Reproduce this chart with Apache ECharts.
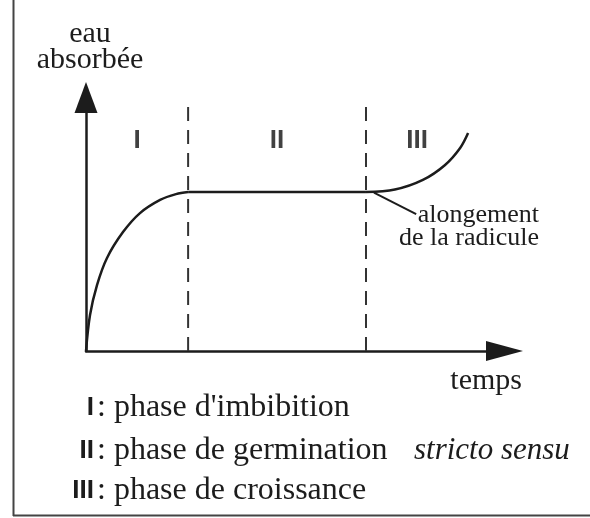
<!DOCTYPE html>
<html>
<head>
<meta charset="utf-8">
<script src="https://cdn.jsdelivr.net/npm/echarts@6/dist/echarts.min.js"></script>
<style>
  html, body { margin: 0; padding: 0; background: #fff; }
  #chart { width: 590px; height: 518px; }
</style>
</head>
<body>
<div id="chart"></div>
<script>
// temps (unités arbitraires, 0-100) et eau absorbée (0-100)
// phase I : imbibition
const phase1Time = [0, 0.96, 2.63, 5.02, 8.84, 12.9, 17.7, 21.5, 24.4];
const phase1Water = [0, 14.2, 26.0, 36.7, 46.9, 54.4, 59.6, 61.9, 62.7];
// phase III : croissance
const phase3Time = [66.9, 73.8, 80.5, 85.8, 89.4, 91.3];
const phase3Water = [62.7, 63.7, 67.5, 73.4, 80.1, 86.0];
// limites des phases (début, fin I, fin II, fin de la courbe)
const phaseBounds = [0, 24.4, 66.9, 91.3];
const phaseNames = ['I', 'II', 'III'];
const phaseDescriptions = [": phase d'imbibition", ': phase de germination', ': phase de croissance'];
const dashTop = 96.3;
const labelLevel = 83;

const serif = '"Liberation Serif", "DejaVu Serif", serif';
const sans = '"Liberation Sans", Arial, sans-serif';
const ink = '#1c1c1c';

const chart = echarts.init(document.getElementById('chart'));

const zip = (xs, ys) => xs.map((x, i) => [x, ys[i]]);
const phase1Data = zip(phase1Time, phase1Water);
const phase3Data = zip(phase3Time, phase3Water);
// plateau de la phase II
const plateauData = [phase1Data[phase1Data.length - 1], phase3Data[0]];

const curveStyle = { color: ink, width: 2.5 };

// lignes pointillées entre les phases
const dashSeries = phaseBounds.slice(1, 3).map(x => ({
  type: 'line',
  data: [[x, 0], [x, dashTop]],
  showSymbol: false,
  silent: true,
  lineStyle: { color: '#333', width: 2, type: [14, 9] },
  z: 1
}));

// chiffres romains au milieu de chaque phase
const phaseLabelData = phaseNames.map((n, i) => ({
  value: [(phaseBounds[i] + phaseBounds[i + 1]) / 2, labelLevel],
  name: n
}));

const legendGraphics = [];
const legendY = [408, 451, 491];
phaseNames.forEach((n, i) => {
  legendGraphics.push({
    type: 'text', x: 94, y: legendY[i],
    style: { text: n, font: 'bold 26px ' + sans, fill: ink, align: 'right', verticalAlign: 'middle' }
  });
  legendGraphics.push({
    type: 'text', x: 97, y: legendY[i],
    style: { text: phaseDescriptions[i], font: '32px ' + serif, fill: ink, align: 'left', verticalAlign: 'middle' }
  });
});

const option = {
  animation: false,
  backgroundColor: '#fff',
  grid: { left: 86, right: 85.5, top: 97.5, bottom: 167, containLabel: false },
  xAxis: {
    type: 'value', min: 0, max: 100,
    name: 'temps',
    nameLocation: 'end',
    nameGap: 17.5,
    nameTextStyle: { fontFamily: serif, fontSize: 30, color: ink, align: 'right', verticalAlign: 'top', lineHeight: 30, padding: [15, 0, 0, 0] },
    axisLine: { show: true, symbol: ['none', 'triangle'], symbolSize: [20, 37], lineStyle: { color: ink, width: 2.5 } },
    axisTick: { show: false }, axisLabel: { show: false }, splitLine: { show: false }
  },
  yAxis: {
    type: 'value', min: 0, max: 100,
    name: 'eau\nabsorbée',
    nameLocation: 'end',
    nameGap: 24,
    nameTextStyle: { fontFamily: serif, fontSize: 30, color: ink, lineHeight: 26, align: 'center', padding: [0, 0, 0, 8] },
    axisLine: { show: true, symbol: ['none', 'triangle'], symbolSize: [23, 31], lineStyle: { color: ink, width: 2.5 } },
    axisTick: { show: false }, axisLabel: { show: false }, splitLine: { show: false }
  },
  series: [
    {
      type: 'line',
      data: phase1Data,
      showSymbol: false,
      smooth: 0.35,
      lineStyle: curveStyle,
      z: 3
    },
    {
      type: 'line',
      data: plateauData,
      showSymbol: false,
      lineStyle: curveStyle,
      z: 3
    },
    {
      type: 'line',
      data: phase3Data,
      showSymbol: false,
      smooth: 0.35,
      lineStyle: curveStyle,
      z: 3,
      markLine: {
        silent: true,
        symbol: ['none', 'none'],
        label: { show: false },
        lineStyle: { color: ink, width: 2, type: 'solid' },
        data: [[{ coord: [68.8, 62.5] }, { coord: [78.9, 54.0] }]]
      }
    },
    ...dashSeries,
    {
      type: 'scatter',
      data: phaseLabelData,
      symbolSize: 0,
      silent: true,
      label: {
        show: true, position: 'inside',
        formatter: p => p.name,
        fontFamily: sans, fontWeight: 'bold', fontSize: 26, color: '#111'
      }
    }
  ],
  graphic: [
    // cadre
    { type: 'line', shape: { x1: 13.5, y1: 0, x2: 13.5, y2: 516 }, style: { stroke: '#444', lineWidth: 2 } },
    { type: 'line', shape: { x1: 13, y1: 515.5, x2: 590, y2: 515.5 }, style: { stroke: '#444', lineWidth: 2 } },
    {
      type: 'text', x: 539, y: 227,
      style: { text: 'alongement\nde la radicule', font: '26px ' + serif, lineHeight: 23, fill: ink, align: 'right', verticalAlign: 'middle' }
    },
    {
      type: 'text', x: 414, y: legendY[1],
      style: { text: 'stricto sensu', font: 'italic 31px ' + serif, fill: ink, align: 'left', verticalAlign: 'middle' }
    },
    ...legendGraphics
  ]
};

chart.setOption(option);
</script>
</body>
</html>
